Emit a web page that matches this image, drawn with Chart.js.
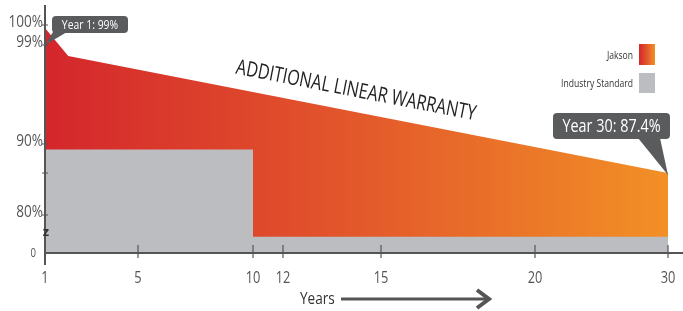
<!DOCTYPE html>
<html>
<head>
<meta charset="utf-8">
<script src="https://cdn.jsdelivr.net/npm/chart.js@4/dist/chart.umd.min.js"></script>
<style>
  html, body { margin: 0; padding: 0; background: #fff; }
  #wrap { width: 683px; height: 311px; }
</style>
</head>
<body>
<div id="wrap"><canvas id="chart" width="683" height="311"></canvas></div>
<script>
// Data
const jaksonYears = [1, 2, 30];
const jaksonValues = [99.85, 98, 87.4];
const standardYears = [1, 10, 10, 30];
const standardValues = [89.5, 89.5, 34, 34];
const xTicks = [1, 5, 10, 12, 15, 20, 30];
const yTicks = [0, 80, 87.4, 90, 99, 100];
const yTickLabels = ['0', '80%', '', '90%', '99%', '100%'];
const seriesNames = ['Jakson', 'Industry Standard'];

// The axes of the original are not to scale: tick positions in axis units
const xTickPos = [0, 93, 208, 238, 336, 490, 623];
const yTickPos = [0, 38, 80, 109, 208, 228];

const FONT = '"Open Sans", "DejaVu Sans", sans-serif';
const SX = 0.8; // condensed look
const AXIS = '#555';
const GRAY = '#bcbdc1';
const CALLOUT = '#5a5b5d';

// piecewise linear lookup value -> axis units
const interp = (v, vals, pos) => {
  for (let i = 1; i < vals.length; i++) {
    if (v <= vals[i]) {
      const t = (v - vals[i - 1]) / (vals[i] - vals[i - 1]);
      return pos[i - 1] + t * (pos[i] - pos[i - 1]);
    }
  }
  return pos[pos.length - 1];
};
const mapX = (yr) => interp(yr, xTicks, xTickPos);
const mapY = (pct) => interp(pct, yTicks, yTickPos);

const toPoints = (xs, ys) => xs.map((x, i) => ({ x: mapX(x), y: mapY(ys[i]) }));

const redGradient = (ctx, x0, x1) => {
  const g = ctx.createLinearGradient(x0, 0, x1, 0);
  g.addColorStop(0, '#d4262c');
  g.addColorStop(0.5, '#e3582b');
  g.addColorStop(1, '#f29026');
  return g;
};

// condensed text helper
const text = (ctx, str, x, y, size, o = {}) => {
  ctx.save();
  ctx.translate(x, y);
  if (o.rotate) ctx.rotate(o.rotate);
  ctx.font = (o.weight || '') + ' ' + size + 'px ' + FONT;
  let sx = o.sx || SX;
  if (o.width) sx = o.width / ctx.measureText(str).width;
  ctx.scale(sx, 1);
  ctx.fillStyle = o.color || AXIS;
  ctx.textAlign = o.align || 'left';
  ctx.textBaseline = o.baseline || 'alphabetic';
  ctx.fillText(str, 0, 0);
  ctx.restore();
};

// Draws axes, tick marks, labels, legend, callouts and captions
const decorations = {
  id: 'decorations',
  afterDraw(chart) {
    const { ctx, scales: { x, y } } = chart;
    const x0 = x.getPixelForValue(0);
    const y0 = y.getPixelForValue(0);
    ctx.save();

    // axis lines
    ctx.strokeStyle = AXIS;
    ctx.lineWidth = 2;
    ctx.beginPath();
    ctx.moveTo(x0, 5);
    ctx.lineTo(x0, y0 + 12);
    ctx.moveTo(x0, y0);
    ctx.lineTo(chart.width, y0);
    ctx.stroke();

    // tick marks
    ctx.lineWidth = 1.2;
    ctx.beginPath();
    xTickPos.forEach((p, i) => {
      if (i === 0) return;
      const px = x.getPixelForValue(p);
      ctx.moveTo(px, y0 - 8);
      ctx.lineTo(px, y0 + 5);
    });
    yTickPos.forEach((p, i) => {
      if (i === 0) return;
      const py = y.getPixelForValue(p);
      ctx.moveTo(x0 - 3, py);
      ctx.lineTo(x0 + 3, py);
    });
    ctx.stroke();

    // y labels
    yTickPos.forEach((p, i) => {
      const py = y.getPixelForValue(p);
      if (i === 0) text(ctx, yTickLabels[i], 36, py + 4, 12, { align: 'right' });
      else text(ctx, yTickLabels[i], 43, py + 2, 17, { align: 'right' });
    });

    // x labels
    xTickPos.forEach((p, i) => {
      text(ctx, String(xTicks[i]), x.getPixelForValue(p), 283, 16, { align: 'center' });
    });

    // axis break mark
    text(ctx, 'z', x0 + 1, y.getPixelForValue(17), 13, { align: 'center', weight: 'bold', color: '#333', sx: 1 });

    // Years caption with arrow
    text(ctx, 'Years', 300, 304, 17, { color: '#333' });
    ctx.strokeStyle = AXIS;
    ctx.lineWidth = 3;
    ctx.beginPath();
    ctx.moveTo(341, 299);
    ctx.lineTo(488, 299);
    ctx.stroke();
    ctx.lineWidth = 4;
    ctx.beginPath();
    ctx.moveTo(477, 290);
    ctx.lineTo(489, 299);
    ctx.lineTo(477, 308);
    ctx.stroke();

    // slanted title, parallel to the Jakson line
    const pa = { x: x.getPixelForValue(mapX(jaksonYears[1])), y: y.getPixelForValue(mapY(jaksonValues[1])) };
    const pb = { x: x.getPixelForValue(mapX(jaksonYears[2])), y: y.getPixelForValue(mapY(jaksonValues[2])) };
    const ang = Math.atan2(pb.y - pa.y, pb.x - pa.x);
    text(ctx, 'ADDITIONAL LINEAR WARRANTY', 356, 91, 21,
      { rotate: ang, align: 'center', baseline: 'middle', color: '#222', width: 244 });

    // legend
    text(ctx, seriesNames[0], 633, 59, 11, { align: 'right', color: '#333', sx: 0.78 });
    text(ctx, seriesNames[1], 633, 87, 11, { align: 'right', color: '#333', sx: 0.78 });
    ctx.fillStyle = redGradient(ctx, 639, 655);
    ctx.fillRect(639, 44, 16, 21);
    ctx.fillStyle = GRAY;
    ctx.fillRect(639, 73, 16, 20);

    // callouts
    const callout = (bx, by, bw, bh, tail0, tail1, tip, str, size) => {
      ctx.fillStyle = CALLOUT;
      ctx.beginPath();
      ctx.roundRect(bx, by, bw, bh, 4);
      ctx.fill();
      ctx.beginPath();
      ctx.moveTo(tail0, by + bh - 1);
      ctx.lineTo(tip.x, tip.y);
      ctx.lineTo(tail1, by + bh - 1);
      ctx.closePath();
      ctx.fill();
      text(ctx, str, bx + bw / 2, by + bh / 2 + size * 0.36, size, { align: 'center', color: '#fff' });
    };
    callout(52, 16, 76, 17, 53, 67,
      { x: x.getPixelForValue(mapX(1)), y: y.getPixelForValue(mapY(99)) },
      'Year 1: 99%', 13);
    callout(553, 113, 117, 26, 638, 660,
      { x: x.getPixelForValue(mapX(30)), y: y.getPixelForValue(mapY(87.4)) + 2 },
      'Year 30: 87.4%', 18);

    ctx.restore();
  }
};

const ctx = document.getElementById('chart').getContext('2d');
const chart = new Chart(ctx, {
  type: 'line',
  data: {
    datasets: [
      {
        label: seriesNames[1],
        data: toPoints(standardYears, standardValues),
        fill: 'origin',
        backgroundColor: GRAY,
        borderWidth: 0,
        pointRadius: 0,
        tension: 0
      },
      {
        label: seriesNames[0],
        data: toPoints(jaksonYears, jaksonValues),
        fill: 'origin',
        backgroundColor: (c) => {
          const area = c.chart.chartArea;
          if (!area) return '#e3582b';
          const xs = c.chart.scales.x;
          return redGradient(c.chart.ctx, xs.getPixelForValue(0), xs.getPixelForValue(xTickPos[xTickPos.length - 1]));
        },
        borderWidth: 0,
        pointRadius: 0,
        tension: 0
      }
    ]
  },
  options: {
    responsive: false,
    animation: false,
    events: [],
    layout: { padding: { top: 8, right: 0, left: 0, bottom: 0 } },
    plugins: { legend: { display: false }, tooltip: { enabled: false } },
    scales: {
      x: {
        type: 'linear',
        min: 0,
        max: 638,
        grid: { display: false, drawTicks: false },
        border: { display: false },
        afterBuildTicks: (s) => { s.ticks = xTickPos.map(v => ({ value: v })); },
        afterFit: (s) => { s.height = 58; s.paddingLeft = 0; s.paddingRight = 0; },
        ticks: { display: false }
      },
      y: {
        type: 'linear',
        min: 0,
        max: 245,
        grid: { display: false, drawTicks: false },
        border: { display: false },
        afterBuildTicks: (s) => { s.ticks = yTickPos.map(v => ({ value: v })); },
        afterFit: (s) => { s.width = 45; s.paddingTop = 0; s.paddingBottom = 0; },
        ticks: { display: false }
      }
    }
  },
  plugins: [decorations]
});
</script>
</body>
</html>
